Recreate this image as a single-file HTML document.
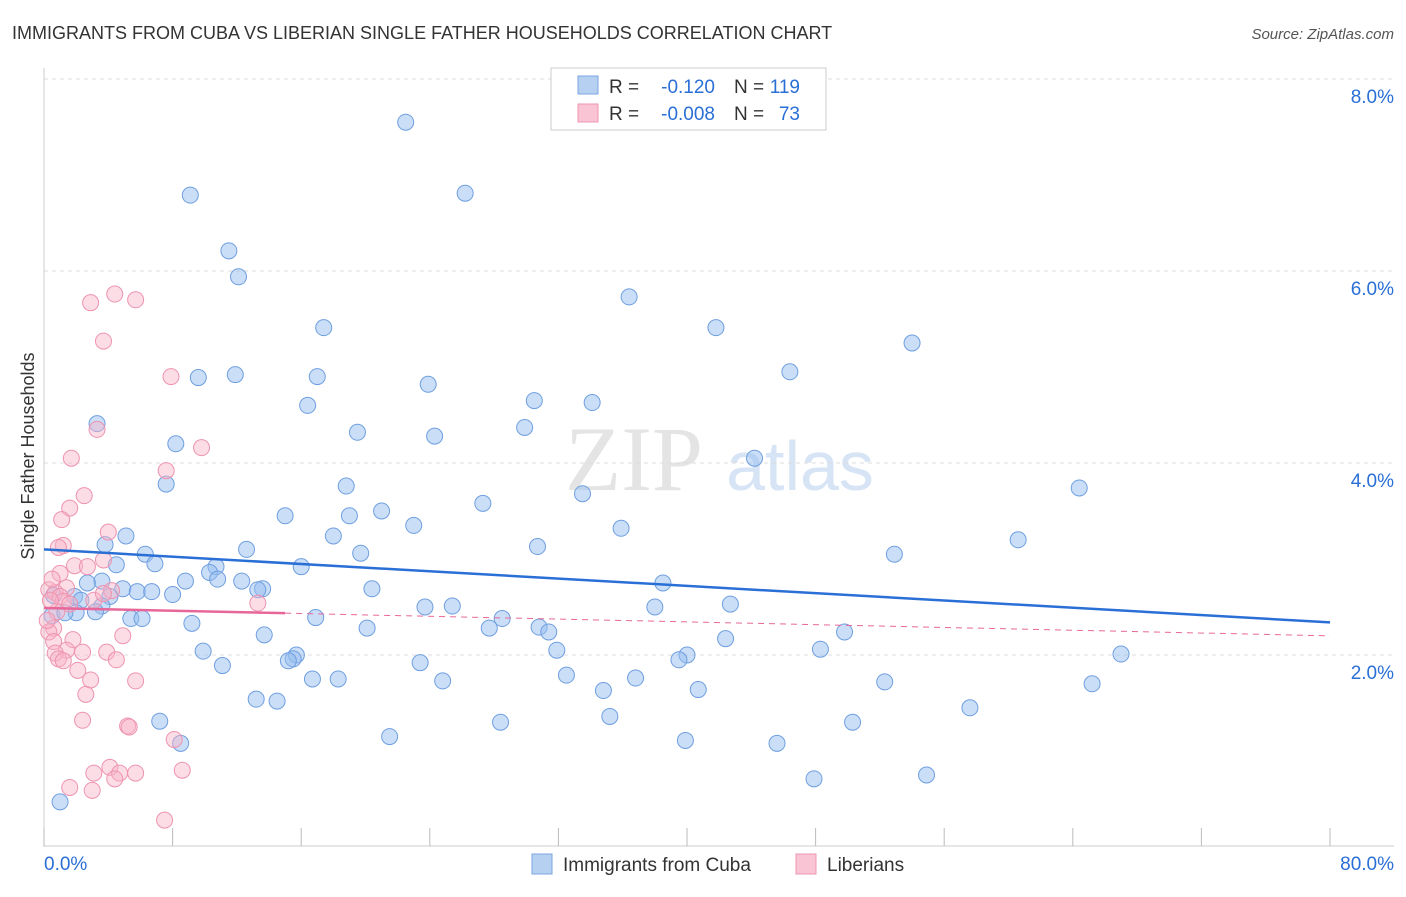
<!DOCTYPE html>
<html><head><meta charset="utf-8"><style>
body{margin:0;background:#fff;font-family:"Liberation Sans",sans-serif}
#c{position:relative;width:1406px;height:892px}
</style></head><body>
<div id="c">
<svg id="s" width="1406" height="892" xmlns="http://www.w3.org/2000/svg">
<text x="12" y="39" font-size="18" fill="#333">IMMIGRANTS FROM CUBA VS LIBERIAN SINGLE FATHER HOUSEHOLDS CORRELATION CHART</text>
<text x="1394" y="39" font-size="15" fill="#555" font-style="italic" text-anchor="end">Source: ZipAtlas.com</text>
<text x="634" y="490" font-size="92" fill="#e4e4e4" font-family="Liberation Serif" text-anchor="middle">ZIP</text>
<text x="800" y="490" font-size="70" fill="#d6e4f5" text-anchor="middle">atlas</text>
<text transform="translate(34,456) rotate(-90)" font-size="18" fill="#333" text-anchor="middle">Single Father Households</text>
<g id="grid"></g><g id="ticks"></g><g id="pts"></g><g id="lines"></g>
<rect x="551" y="68" width="275" height="62" fill="#fff" stroke="#ccc"/>
<rect x="578" y="76" width="20" height="18" fill="#b6d0f2" stroke="#7aa6e0"/>
<rect x="578" y="104" width="20" height="18" fill="#f9c5d5" stroke="#ef95b0"/>
<g font-size="19">
<text x="609" y="93" fill="#333">R =</text>
<text x="715" y="93" fill="#2a6fd6" text-anchor="end">-0.120</text>
<text x="734" y="93" fill="#333">N =</text>
<text x="800" y="93" fill="#2a6fd6" text-anchor="end">119</text>
<text x="609" y="120" fill="#333">R =</text>
<text x="715" y="120" fill="#2a6fd6" text-anchor="end">-0.008</text>
<text x="734" y="120" fill="#333">N =</text>
<text x="800" y="120" fill="#2a6fd6" text-anchor="end">73</text>
</g>
<rect x="532" y="854" width="20" height="20" fill="#b6d0f2" stroke="#7aa6e0"/>
<text x="563" y="871" font-size="19" fill="#333">Immigrants from Cuba</text>
<rect x="796" y="854" width="20" height="20" fill="#f9c5d5" stroke="#ef95b0"/>
<text x="827" y="871" font-size="19" fill="#333">Liberians</text>
<text x="44" y="870" font-size="19" fill="#2a6fd6">0.0%</text>
<text x="1394" y="870" font-size="19" fill="#2a6fd6" text-anchor="end">80.0%</text>
</svg></div>
<script>
const yTicks=[2,4,6,8];
const xTicks=[0,8,16,24,32,40,48,56,64,72,80];
const cubaX=[22.5,9.1,26.2,11.5,12.1,36.4,17.4,41.8,54.0,9.6,11.9,17.0,46.4,23.9,16.4,30.5,34.1,3.3,8.2,19.5,29.9,24.3,44.2,7.6,18.8,64.4,33.5,27.3,15.0,19.0,21.0,23.0,35.9,5.1,18.0,60.6,3.8,12.6,6.3,30.7,19.7,52.9,4.5,6.9,16.0,10.7,10.3,8.8,3.6,10.8,12.3,38.5,2.7,13.6,20.4,13.3,4.9,5.8,6.7,8.0,4.1,1.9,2.3,3.6,42.7,38.0,23.7,25.4,3.2,2.0,0.5,5.4,6.1,16.9,28.5,27.7,9.2,20.1,30.8,31.4,49.8,13.7,42.4,48.3,9.9,31.9,67.0,15.7,15.5,40.0,39.5,15.2,23.4,11.1,32.5,16.7,18.3,24.8,36.8,52.3,65.2,34.8,40.7,13.2,14.5,57.6,35.2,28.4,50.3,7.2,8.5,39.9,45.6,21.5,47.9,54.9,1.0,0.6,1.3];
const cubaY=[7.55,6.79,6.81,6.21,5.94,5.73,5.41,5.41,5.25,4.89,4.92,4.90,4.95,4.82,4.60,4.65,4.63,4.41,4.20,4.32,4.37,4.28,4.05,3.78,3.76,3.74,3.68,3.58,3.45,3.45,3.50,3.35,3.32,3.24,3.24,3.20,3.15,3.10,3.05,3.13,3.06,3.05,2.94,2.95,2.92,2.92,2.86,2.77,2.77,2.79,2.77,2.75,2.75,2.69,2.69,2.68,2.69,2.66,2.66,2.63,2.61,2.61,2.57,2.51,2.53,2.50,2.50,2.51,2.45,2.44,2.41,2.38,2.38,2.39,2.38,2.28,2.33,2.28,2.29,2.24,2.24,2.21,2.17,2.06,2.04,2.05,2.01,2.00,1.96,2.00,1.95,1.94,1.92,1.89,1.79,1.75,1.75,1.73,1.76,1.72,1.70,1.63,1.64,1.54,1.52,1.45,1.36,1.30,1.30,1.31,1.08,1.11,1.08,1.15,0.71,0.75,0.47,2.62,2.44,2.57];
const libX=[2.9,4.4,5.7,3.7,7.9,9.8,3.3,1.7,7.6,2.5,1.6,1.1,4.0,1.2,0.9,3.7,1.9,2.7,1.0,1.4,0.3,0.7,1.0,1.2,1.6,4.2,3.1,13.3,3.7,0.6,0.8,0.3,4.9,0.6,1.8,1.4,0.7,3.9,2.4,0.9,1.2,4.5,2.1,2.9,5.7,2.6,2.4,5.2,5.3,8.1,4.1,3.1,4.7,5.7,8.6,4.4,1.6,3.0,7.5,0.4,0.2,0.5];
const libY=[5.67,5.76,5.70,5.27,4.90,4.16,4.35,4.05,3.92,3.66,3.53,3.41,3.28,3.14,3.12,2.99,2.93,2.92,2.85,2.70,2.68,2.65,2.61,2.56,2.53,2.67,2.57,2.54,2.64,2.28,2.45,2.24,2.20,2.14,2.16,2.05,2.02,2.03,2.03,1.96,1.94,1.95,1.84,1.74,1.73,1.59,1.32,1.26,1.25,1.12,0.83,0.77,0.77,0.77,0.80,0.71,0.62,0.59,0.28,2.57,2.36,2.79];
const cubaTrend=[3.10,2.34];
const libTrend=[2.49,2.20];
const NS="http://www.w3.org/2000/svg";
const X=v=>44+v/80*1286, Y=v=>847-v*96;
function mk(t,a,p){const e=document.createElementNS(NS,t);for(const k in a)e.setAttribute(k,a[k]);document.getElementById(p).appendChild(e);return e;}
yTicks.forEach(t=>{
 const l=mk('line',{x1:44,x2:1394,y1:Y(t),y2:Y(t),stroke:'#ddd','stroke-dasharray':'4,4'},'grid');
 
 
 const tx=mk('text',{x:1394,y:Y(t)+24,'font-size':19,fill:'#2a6fd6','text-anchor':'end'},'grid');
 tx.textContent=t.toFixed(1)+'%';
 
 
});
const ax=mk('line',{x1:44,x2:44,y1:68,y2:847,stroke:'#ccc'},'ticks');


const bx=mk('line',{x1:44,x2:1394,y1:846,y2:846,stroke:'#ccc'},'ticks');


xTicks.forEach(t=>{
 const l=mk('line',{x1:X(t),x2:X(t),y1:828,y2:846,stroke:'#bbb'},'ticks');
 
 
});
cubaX.forEach((v,i)=>{
 const c=mk('circle',{cx:X(v),cy:Y(cubaY[i]),r:8,fill:'rgba(150,190,240,0.5)',stroke:'#6f9fe0','stroke-width':1},'pts');
 
 
});
libX.forEach((v,i)=>{
 const c=mk('circle',{cx:X(v),cy:Y(libY[i]),r:8,fill:'rgba(248,180,200,0.45)',stroke:'#ee93b0','stroke-width':1},'pts');
 
 
});
const t1=mk('line',{x1:X(0),x2:X(80),y1:Y(cubaTrend[0]),y2:Y(cubaTrend[1]),stroke:'#2a6fd6','stroke-width':2.5},'lines');


const lm=v=>libTrend[0]+(libTrend[1]-libTrend[0])*v/80;
const t2=mk('line',{x1:X(0),x2:X(15),y1:Y(lm(0)),y2:Y(lm(15)),stroke:'#e8679a','stroke-width':2.5},'lines');


const t3=mk('line',{x1:X(15),x2:X(80),y1:Y(lm(15)),y2:Y(lm(80)),stroke:'#e8679a','stroke-width':1,'stroke-dasharray':'6,5'},'lines');


</script>
</body></html>
